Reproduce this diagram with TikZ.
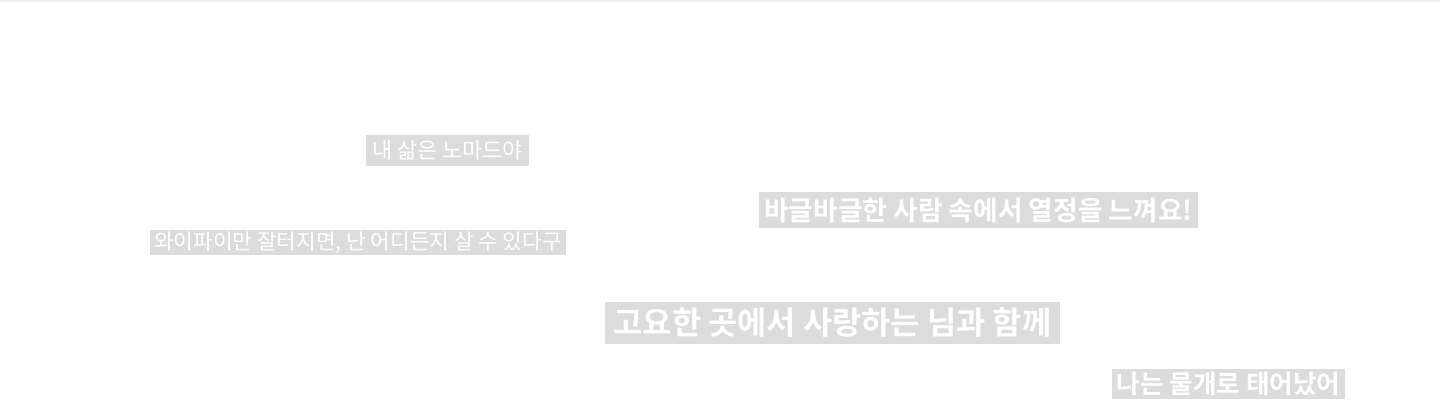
\documentclass[tikz,border=0pt]{standalone}
\usepackage{fontspec}
\usepackage{xcolor}
\usetikzlibrary{positioning}
\newfontfamily\kr{Noto Sans CJK KR}[BoldFont={Noto Sans CJK KR Bold}]
\definecolor{tagfill}{HTML}{DCDCDC}
\definecolor{topline}{HTML}{EEEEEE}
\tikzset{
  tagbox/.style={fill=tagfill, text=white, inner sep=0pt, font=\kr},
}

\begin{document}
\begin{tikzpicture}[x=0.75pt, y=-0.75pt]
        \useasboundingbox (0,0) rectangle (1440,418);
        \fill[topline] (0,0) rectangle (1440,1.5);
        
        \node[tagbox, minimum width=163*0.75pt, minimum height=31*0.75pt, font=\kr\fontsize{16.4pt}{19pt}\selectfont] (nomad) at (447.5, 150.5) {내 삶은 노마드야};
        \node[tagbox, minimum width=416*0.75pt, minimum height=25*0.75pt, font=\kr\fontsize{16pt}{18pt}\selectfont] (wifi) at (358, 242.5) {와이파이만 잘터지면, 난 어디든지 살 수 있다구};
        
        % bold tags
        \node[tagbox, minimum width=439*0.75pt, minimum height=36*0.75pt, font=\kr\bfseries\fontsize{20.1pt}{23pt}\selectfont] (crowd) at (978.5, 210) {바글바글한 사람 속에서 열정을 느껴요!};
        \node[tagbox, minimum width=455*0.75pt, minimum height=42*0.75pt, font=\kr\bfseries\fontsize{23.8pt}{27pt}\selectfont] (quiet) at (832.5, 323) {고요한 곳에서 사랑하는 님과 함께};
        \node[tagbox, minimum width=233*0.75pt, minimum height=30*0.75pt, font=\kr\bfseries\fontsize{19.2pt}{22pt}\selectfont] (seal) at (1228.5, 384) {나는 물개로 태어났어};
    \end{tikzpicture}
\end{document}
